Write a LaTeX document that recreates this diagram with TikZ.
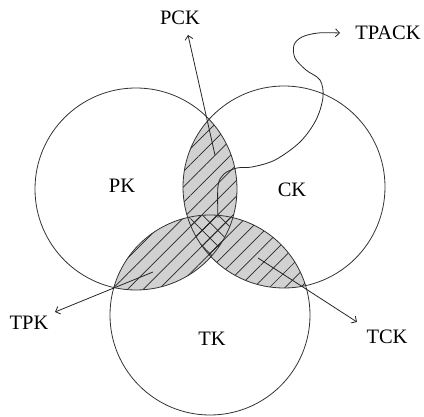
\documentclass[tikz,border=0pt]{standalone}
\usepackage{fontspec}
\setmainfont{Liberation Serif}
\usetikzlibrary{arrows.meta,patterns.meta}
\begin{document}
\begin{tikzpicture}[x=1pt,y=-1pt,
  ring/.style={draw=black!80,line width=0.8pt},
  lbl/.style={font=\fontsize{20.5}{24}\selectfont,inner sep=0pt},
  conn/.style={draw=black!85,line width=0.8pt,-{Straight Barb[length=4pt,width=8pt]}},
  hatch/.style={pattern={Lines[angle=45,distance=11pt,line width=0.7pt]},pattern color=black!85},
  xhatch/.style={pattern={Lines[angle=-45,distance=11pt,line width=0.7pt]},pattern color=black!85},
  lens/.style={fill=black!18}]
\useasboundingbox (0,0) rectangle (424,417);
\coordinate (P) at (136,189);
\coordinate (C) at (284,187);
\coordinate (T) at (210,315);
% fills
\begin{scope}\clip (P) circle[radius=101pt]; \fill[lens] (C) circle[radius=101pt]; \fill[lens] (T) circle[radius=100pt];\end{scope}
\begin{scope}\clip (C) circle[radius=101pt]; \fill[lens] (T) circle[radius=100pt];\end{scope}
\begin{scope}\clip (P) circle[radius=101pt]; \fill[hatch] (C) circle[radius=101pt]; \fill[hatch] (T) circle[radius=100pt];\end{scope}
\begin{scope}\clip (C) circle[radius=101pt]; \fill[hatch] (T) circle[radius=100pt];\end{scope}
\begin{scope}\clip (P) circle[radius=101pt]; \clip (C) circle[radius=101pt]; \fill[xhatch] (T) circle[radius=100pt];\end{scope}
% circles
\draw[ring] (P) circle[radius=101pt];
\draw[ring] (C) circle[radius=101pt];
\draw[ring] (T) circle[radius=100pt];
% labels
\node[lbl] (pk) at (122,186) {PK};
\node[lbl] (ck) at (292,190) {CK};
\node[lbl] (tk) at (212,339) {TK};
\node[lbl] (pck) at (180,18) {PCK};
\node[lbl] (tpk) at (29,323) {TPK};
\node[lbl] (tck) at (387,337) {TCK};
\node[lbl] (tpack) at (388,33) {TPACK};
% connectors
\coordinate (pcks) at (215,155);
\coordinate (pcke) at (188,35);
\coordinate (tpks) at (153,272);
\coordinate (tpke) at (55,312);
\coordinate (tcks) at (258,258);
\coordinate (tcke) at (357,322);
\draw[conn] (pcks) -- (pcke);
\draw[conn] (tpks) -- (tpke);
\draw[conn] (tcks) -- (tcke);
\draw[conn] plot[smooth,tension=0.55] coordinates {(218,218) (218,186) (224,174) (237,168) (252,167) (275,160) (300,142) (316,120) (323,97) (320,80) (306,70) (295,58) (294,45) (302,37) (318,33) (340,33)};
\end{tikzpicture}
\end{document}
